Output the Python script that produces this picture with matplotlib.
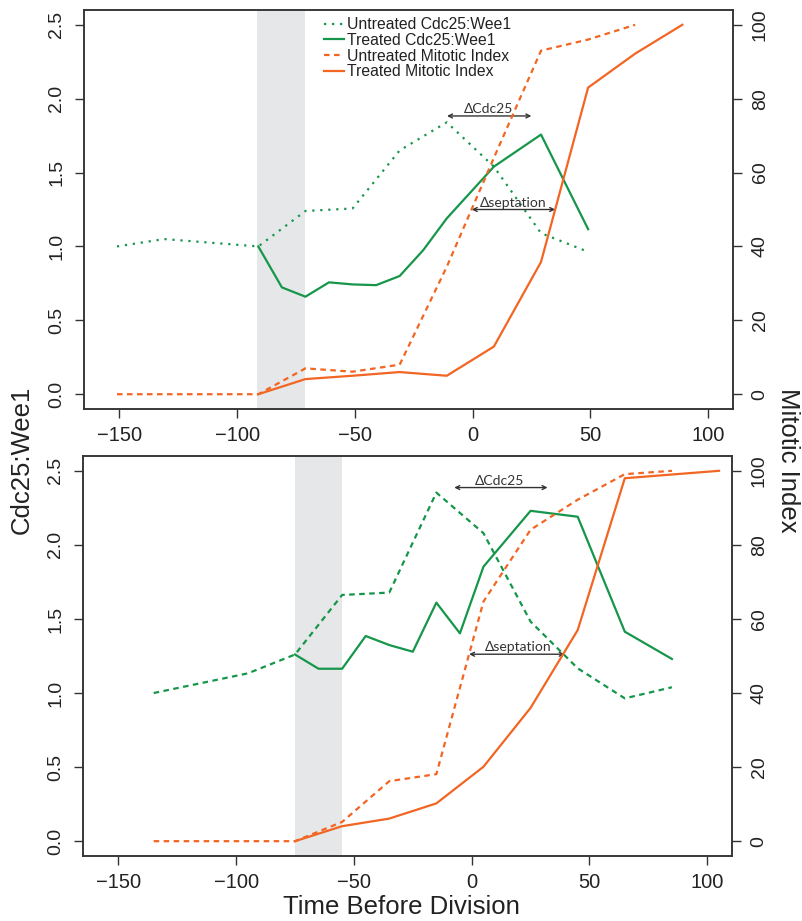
import matplotlib
matplotlib.use('Agg')
import matplotlib.pyplot as plt
from matplotlib.lines import Line2D

plt.rcParams['font.family'] = ['Liberation Sans', 'DejaVu Sans']

# ---------------- data: top panel ----------------
top_unt_cdc_t = [-151, -131, -91, -71, -51, -31, -11, 9, 29, 48]
top_unt_cdc_v = [1.0, 1.05, 1.0, 1.24, 1.257, 1.65, 1.84, 1.54, 1.09, 0.97]
top_trt_cdc_t = [-91, -81, -71, -61, -51, -41, -31, -21, -11, 9, 29, 49]
top_trt_cdc_v = [1.0, 0.723, 0.66, 0.757, 0.743, 0.738, 0.80, 0.975, 1.19, 1.54, 1.757, 1.117]
top_unt_mi_t = [-151, -91, -71, -51, -31, -11, 9, 29, 49, 69]
top_unt_mi_v = [0, 0, 7.0, 6.1, 8.0, 34.5, 64.0, 93.0, 96.0, 100.0]
top_trt_mi_t = [-91, -71, -51, -31, -11, 9, 29, 49, 69, 89]
top_trt_mi_v = [0, 4.1, 5.0, 6.0, 5.0, 12.9, 35.8, 83.0, 92.2, 100.0]
top_shade = (-91.5, -71.2)

# ---------------- data: bottom panel ----------------
bot_unt_cdc_t = [-135, -95, -75, -55, -35, -15, 5, 25, 45, 65, 85]
bot_unt_cdc_v = [1.0, 1.133, 1.26, 1.662, 1.678, 2.353, 2.079, 1.482, 1.167, 0.964, 1.039]
bot_trt_cdc_t = [-75, -65, -55, -45, -35, -25, -15, -5, 5, 25, 45, 65, 85]
bot_trt_cdc_v = [1.26, 1.164, 1.164, 1.385, 1.324, 1.279, 1.61, 1.403, 1.853, 2.23, 2.19, 1.414, 1.23]
bot_unt_mi_t = [-135, -75, -55, -35, -15, 5, 25, 45, 65, 85]
bot_unt_mi_v = [0, 0, 5.2, 16.2, 18.1, 64.7, 84.1, 92.2, 99.1, 100.0]
bot_trt_mi_t = [-75, -55, -35, -15, 5, 25, 45, 65, 105]
bot_trt_mi_v = [0, 4.05, 6.1, 10.2, 20.1, 36.0, 57.0, 98.0, 100.0]
bot_shade = (-75, -55.1)

x_ticks = [-150, -100, -50, 0, 50, 100]
y_ticks = [0.0, 0.5, 1.0, 1.5, 2.0, 2.5]
y_tick_labels = ['0.0', '0.5', '1.0', '1.5', '2.0', '2.5']
mi_ticks = [0, 20, 40, 60, 80, 100]

legend_labels = ['Untreated Cdc25:Wee1', 'Treated Cdc25:Wee1',
                 'Untreated Mitotic Index', 'Treated Mitotic Index']

GREEN = '#16964a'
ORANGE = '#f26522'
SHADE = '#e6e7e8'
DARK = '#333333'

DASHED = (0, (2.5, 2.0))
DOTTED = (0, (1.0, 2.6))
LW = 1.6

fig = plt.figure(figsize=(8.03, 9.21), dpi=100)
W, H = 803, 921


def make_axes(left, top, right, bottom):
    ax = fig.add_axes([left / W, 1 - bottom / H, (right - left) / W, (bottom - top) / H])
    axr = ax.twinx()
    ax.set_xlim(-165, 110.5)
    ax.set_ylim(-0.1, 2.6)
    axr.set_ylim(-4, 104)
    ax.set_xticks(x_ticks)
    ax.set_xticklabels([str(t).replace('-', '\u2212') for t in x_ticks])
    ax.set_yticks(y_ticks)
    ax.set_yticklabels(y_tick_labels, rotation=90, va='center')
    axr.set_yticks(mi_ticks)
    axr.set_yticklabels([str(t) for t in mi_ticks], rotation=90, va='center')
    for a in (ax, axr):
        for s in a.spines.values():
            s.set_color(DARK)
            s.set_linewidth(1.1)
        a.tick_params(direction='out', length=6.5, width=1.0, color=DARK, labelcolor='#222222')
    ax.tick_params(axis='x', labelsize=14.5, pad=6)
    ax.tick_params(axis='y', labelsize=14, pad=7)
    axr.tick_params(axis='y', labelsize=14, pad=7)
    return ax, axr


ax1, ax1r = make_axes(84, 10, 733, 409)
ax2, ax2r = make_axes(83, 456, 732, 856)

# top panel
ax1.axvspan(*top_shade, color=SHADE, lw=0, zorder=0)
ax1.plot(top_unt_cdc_t, top_unt_cdc_v, color=GREEN, lw=LW, ls=DOTTED)
ax1.plot(top_trt_cdc_t, top_trt_cdc_v, color=GREEN, lw=LW, ls='-')
ax1r.plot(top_unt_mi_t, top_unt_mi_v, color=ORANGE, lw=LW, ls=DASHED)
ax1r.plot(top_trt_mi_t, top_trt_mi_v, color=ORANGE, lw=LW, ls='-')

# bottom panel
ax2.axvspan(*bot_shade, color=SHADE, lw=0, zorder=0)
ax2.plot(bot_unt_cdc_t, bot_unt_cdc_v, color=GREEN, lw=LW, ls=DASHED)
ax2.plot(bot_trt_cdc_t, bot_trt_cdc_v, color=GREEN, lw=LW, ls='-')
ax2r.plot(bot_unt_mi_t, bot_unt_mi_v, color=ORANGE, lw=LW, ls=DASHED)
ax2r.plot(bot_trt_mi_t, bot_trt_mi_v, color=ORANGE, lw=LW, ls='-')

# annotations (arrows + labels)
ann_font = dict(family=['Lato', 'DejaVu Sans'], fontsize=10, color=DARK, ha='center', va='baseline')
arrow_props = dict(arrowstyle='<->', color=DARK, lw=1.0, shrinkA=0, shrinkB=0, mutation_scale=7)


def delta(ax, x0, x1, y, xt, label):
    ax.annotate('', xy=(x0, y), xytext=(x1, y), arrowprops=arrow_props)
    ax.text(xt, y + 0.02, label, **ann_font)


delta(ax1, -10.9, 24.9, 1.883, 6.7, '\u0394Cdc25')
delta(ax1, -0.4, 35.0, 1.25, 17.1, '\u0394septation')
delta(ax2, -7.4, 32.2, 2.387, 12.0, '\u0394Cdc25')
delta(ax2, -1.1, 39.5, 1.262, 19.7, '\u0394septation')

# legend
handles = [Line2D([], [], color=GREEN, lw=LW, ls=DOTTED),
           Line2D([], [], color=GREEN, lw=LW, ls='-'),
           Line2D([], [], color=ORANGE, lw=LW, ls=DASHED),
           Line2D([], [], color=ORANGE, lw=LW, ls='-')]
leg = ax1r.legend(handles, legend_labels, loc='upper left',
                  bbox_to_anchor=(324 / W, 1 - 17 / H), bbox_transform=fig.transFigure,
                  frameon=False, fontsize=11.3, handlelength=1.3, handletextpad=0.15,
                  labelspacing=0.05, borderpad=0, borderaxespad=0)
for t in leg.get_texts():
    t.set_color('#222222')

# axis titles
fig.text(22 / W, 1 - 460 / H, 'Cdc25:Wee1', rotation=90, ha='center', va='center', fontsize=18.5, color='#222222')
fig.text(788 / W, 1 - 460 / H, 'Mitotic Index', rotation=-90, ha='center', va='center', fontsize=18.5, color='#222222')
fig.text(401.5 / W, 1 - 907 / H, 'Time Before Division', ha='center', va='center', fontsize=18.5, color='#222222')

fig.savefig('out.png', dpi=100)
